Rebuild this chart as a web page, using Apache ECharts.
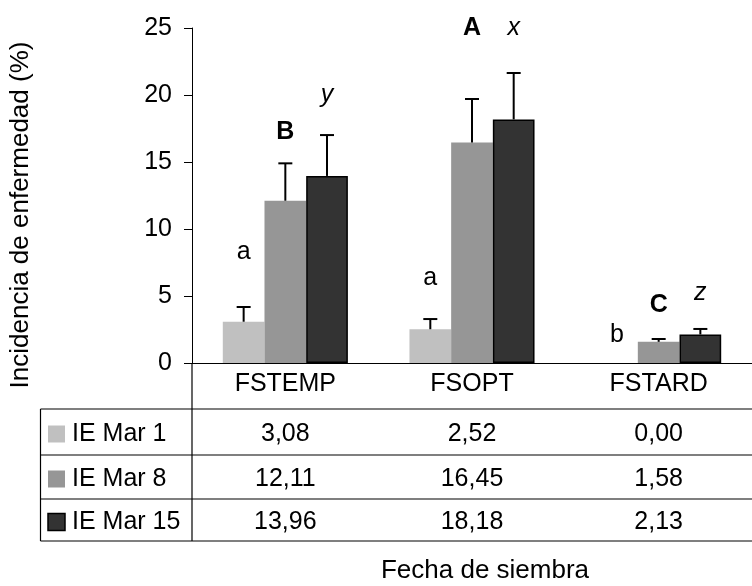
<!DOCTYPE html>
<html>
<head>
<meta charset="utf-8">
<script src="https://cdn.jsdelivr.net/npm/echarts@6/dist/echarts.min.js"></script>
<style>
  html, body { margin: 0; padding: 0; background: #fff; }
  #myChart { width: 752px; height: 586px; }
</style>
</head>
<body>
<div id="myChart"></div>
<script>
// datos
var categories = ['FSTEMP', 'FSOPT', 'FSTARD'];
var seriesNames = ['IE Mar 1', 'IE Mar 8', 'IE Mar 15'];
var mar1 = [3.08, 2.52, 0.00];
var mar8 = [12.11, 16.45, 1.58];
var mar15 = [13.96, 18.18, 2.13];
// error superior
var err1 = [1.10, 0.76, 0];
var err8 = [2.79, 3.25, 0.21];
var err15 = [3.05, 3.46, 0.41];
// letras de significancia y altura donde aparecen
var letters1 = ['a', 'a', 'b'];
var letterY1 = [8.3, 6.3, 2.1];
var letters8 = ['B', 'A', 'C'];
var letterY8 = [17.2, 25.0, 4.3];
var letters15 = ['y', 'x', 'z'];
var letterY15 = [20.0, 25.0, 5.2];

var values = [mar1, mar8, mar15];
var errors = [err1, err8, err15];
var letters = [letters1, letters8, letters15];
var letterYs = [letterY1, letterY8, letterY15];
var colors = ['#c0c0c0', '#969696', '#333333'];
var letterFonts = ['normal', 'bold', 'italic'];
var FONT = '"Liberation Sans", Arial, sans-serif';
var FS = 25;
var GAP = 0.33;

var chart = echarts.init(document.getElementById('myChart'));

function offsetX(api, s, idx) {
    var band = api.size([1, 0])[0];
    var bw = band * (1 - GAP) / 3;
    return api.coord([idx, 0])[0] + (s - 1) * bw;
}

function errRender(s) {
    return function (params, api) {
        var idx = api.value(0);
        var lo = api.value(1), hi = api.value(2);
        if (hi <= lo) return;
        var x = offsetX(api, s, idx);
        var y1 = api.coord([idx, lo])[1];
        var y2 = api.coord([idx, hi])[1];
        return {
            type: 'group',
            children: [
                { type: 'line', shape: { x1: x, y1: y1, x2: x, y2: y2 }, style: { stroke: '#000', lineWidth: 2 } },
                { type: 'line', shape: { x1: x - 7, y1: y2, x2: x + 7, y2: y2 }, style: { stroke: '#000', lineWidth: 2 } }
            ]
        };
    };
}

function letterRender(s) {
    return function (params, api) {
        var idx = api.value(0);
        var x = offsetX(api, s, idx);
        var y = api.coord([idx, api.value(1)])[1];
        var f = letterFonts[s];
        var fontStr = (f === 'bold' ? 'bold ' : f === 'italic' ? 'italic ' : '') + FS + 'px ' + FONT;
        return {
            type: 'text',
            x: x,
            y: y,
            style: {
                text: letters[s][params.dataIndex],
                font: fontStr,
                fill: '#000',
                textAlign: 'center',
                textVerticalAlign: 'middle',
                align: 'center',
                verticalAlign: 'middle'
            }
        };
    };
}

var series = [];
for (var s = 0; s < 3; s++) {
    series.push({
        name: seriesNames[s],
        type: 'bar',
        data: values[s],
        barGap: '0%',
        barCategoryGap: (GAP * 100) + '%',
        itemStyle: {
            color: colors[s],
            borderColor: s === 2 ? '#000' : colors[s],
            borderWidth: s === 2 ? 1.5 : 0
        },
        animation: false
    });
}
for (var s = 0; s < 3; s++) {
    series.push({
        type: 'custom',
        renderItem: errRender(s),
        data: categories.map(function (c, i) { return [i, values[s][i], values[s][i] + errors[s][i]]; }),
        z: 5,
        animation: false
    });
    series.push({
        type: 'custom',
        renderItem: letterRender(s),
        data: categories.map(function (c, i) { return [i, letterYs[s][i]]; }),
        z: 6,
        clip: false,
        animation: false
    });
}

chart.setOption({
    animation: false,
    grid: { left: 192, top: 28, width: 573, height: 335 },
    xAxis: {
        type: 'category',
        data: categories,
        axisLine: { lineStyle: { color: '#000', width: 1 } },
        axisTick: { show: false },
        axisLabel: { fontSize: FS, color: '#000', fontFamily: FONT, margin: 9 }
    },
    yAxis: {
        type: 'value',
        min: 0,
        max: 25,
        interval: 5,
        splitLine: { show: false },
        axisLine: { show: true, lineStyle: { color: '#000', width: 1 } },
        axisTick: { show: true, length: 8, lineStyle: { color: '#000' } },
        axisLabel: { fontSize: FS, color: '#000', fontFamily: FONT, margin: 20 }
    },
    series: series
});

// tabla de datos bajo el eje
var rowTop = [409, 455, 499];
var rowBottom = 541;
var tableLeft = 40.5;
var axisX = chart.convertToPixel({ xAxisIndex: 0 }, categories[0]) - chart.getModel().getComponent('xAxis', 0).axis.getBandWidth() / 2;
var g = [];
function hline(y, x1) {
    g.push({ type: 'line', shape: { x1: x1, y1: y, x2: 752, y2: y }, style: { stroke: '#000', lineWidth: 1.2 } });
}
rowTop.forEach(function (y) { hline(y, tableLeft); });
hline(rowBottom, tableLeft);
g.push({ type: 'line', shape: { x1: tableLeft, y1: rowTop[0], x2: tableLeft, y2: rowBottom }, style: { stroke: '#000', lineWidth: 1.2 } });
g.push({ type: 'line', shape: { x1: axisX, y1: 363, x2: axisX, y2: rowBottom }, style: { stroke: '#000', lineWidth: 1.2 } });

for (var r = 0; r < 3; r++) {
    var rTop = rowTop[r];
    var rBot = r < 2 ? rowTop[r + 1] : rowBottom;
    var cy = (rTop + rBot) / 2 + 2;
    g.push({
        type: 'rect',
        shape: { x: 48, y: cy - 8.5, width: 17, height: 17 },
        style: { fill: colors[r], stroke: r === 2 ? '#000' : colors[r], lineWidth: r === 2 ? 1.5 : 0 }
    });
    g.push({
        type: 'text', x: 72, y: cy,
        style: { text: seriesNames[r], font: FS + 'px ' + FONT, fill: '#000', textAlign: 'left', textVerticalAlign: 'middle' }
    });
    for (var c = 0; c < categories.length; c++) {
        var cx = chart.convertToPixel({ xAxisIndex: 0 }, categories[c]);
        g.push({
            type: 'text', x: cx, y: cy,
            style: { text: values[r][c].toFixed(2).replace('.', ','), font: FS + 'px ' + FONT, fill: '#000', textAlign: 'center', textVerticalAlign: 'middle' }
        });
    }
}

// titulos de ejes
g.push({
    type: 'text', x: 21, y: 215, rotation: Math.PI / 2,
    style: { text: 'Incidencia de enfermedad (%)', font: '26px ' + FONT, fill: '#000', textAlign: 'center', textVerticalAlign: 'middle' }
});
g.push({
    type: 'text', x: 485, y: 571,
    style: { text: 'Fecha de siembra', font: '26px ' + FONT, fill: '#000', textAlign: 'center', textVerticalAlign: 'middle' }
});

chart.setOption({ graphic: { elements: g } });
</script>
</body>
</html>
